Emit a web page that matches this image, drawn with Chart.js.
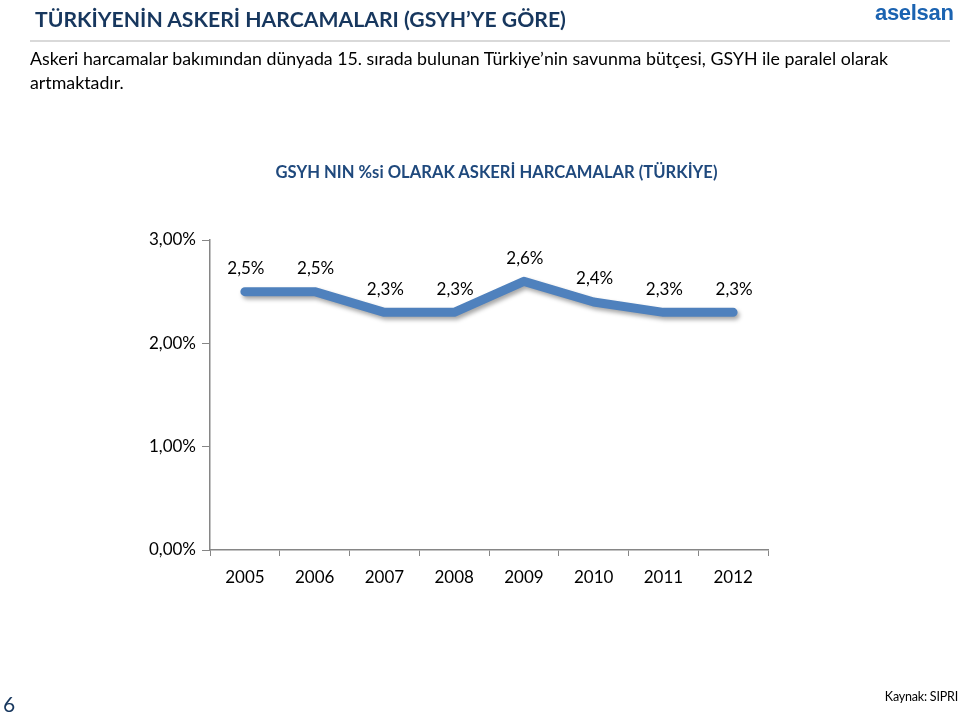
<!DOCTYPE html>
<html><head><meta charset="utf-8">
<script src="https://cdn.jsdelivr.net/npm/chart.js@4/dist/chart.umd.min.js"></script>
<style>
html,body{margin:0;padding:0;background:#fff;}
body{width:960px;height:719px;position:relative;overflow:hidden;font-family:Lato,"Open Sans",sans-serif;}
#title{position:absolute;left:35px;top:6px;font-size:21.2px;font-weight:bold;color:#17375E;white-space:nowrap;}
#rule{position:absolute;left:30px;top:40px;width:920px;height:2px;background:#d9d9d9;}
#sub{position:absolute;left:30px;top:46px;width:880px;font-size:17.8px;line-height:24px;color:#000;}
#logo{position:absolute;left:875px;top:0px;font-family:"Liberation Sans",Arial,sans-serif;font-size:22px;font-weight:bold;color:#1B63B1;letter-spacing:-0.3px;}
#ctitle{position:absolute;left:0;width:993px;text-align:center;top:162px;font-size:16.6px;font-weight:bold;color:#1F497D;white-space:nowrap;}
#num{position:absolute;left:3px;top:691px;font-size:21px;color:#17375E;}
#src{position:absolute;right:2px;top:689px;font-size:12.5px;color:#000;white-space:nowrap;letter-spacing:-0.2px;}
canvas{position:absolute;left:0;top:0;}
</style></head>
<body>
<canvas id="c" width="960" height="719"></canvas>
<div id="title">TÜRKİYENİN ASKERİ HARCAMALARI (GSYH’YE GÖRE)</div>
<div id="rule"></div>
<div id="logo">aselsan</div>
<div id="sub">Askeri harcamalar bakımından dünyada 15. sırada bulunan Türkiye’nin savunma bütçesi, GSYH ile paralel olarak artmaktadır.</div>
<div id="ctitle">GSYH NIN %si OLARAK ASKERİ HARCAMALAR (TÜRKİYE)</div>
<div id="num">6</div>
<div id="src">Kaynak: SIPRI</div>
<script>
const years = ["2005","2006","2007","2008","2009","2010","2011","2012"];
const gdpShare = [2.5, 2.5, 2.3, 2.3, 2.6, 2.4, 2.3, 2.3];
const yTicks = [0, 1, 2, 3];

const fmt = v => v.toFixed(1).replace('.', ',') + '%';
const fmtTick = v => v.toFixed(2).replace('.', ',') + '%';

const shadowPlugin = {
  id: 'shadow',
  beforeDatasetDraw(chart) {
    const ctx = chart.ctx;
    ctx.save();
    ctx.shadowColor = 'rgba(0,0,0,0.35)';
    ctx.shadowBlur = 4;
    ctx.shadowOffsetX = 2;
    ctx.shadowOffsetY = 3;
  },
  afterDatasetDraw(chart) { chart.ctx.restore(); }
};
const labelPlugin = {
  id: 'labels',
  afterDatasetsDraw(chart) {
    const ctx = chart.ctx;
    const meta = chart.getDatasetMeta(0);
    ctx.save();
    ctx.font = '17px Lato, "Open Sans", sans-serif';
    ctx.fillStyle = '#000';
    ctx.textAlign = 'center';
    ctx.textBaseline = 'middle';
    meta.data.forEach((pt, i) => {
      ctx.fillText(fmt(gdpShare[i]), pt.x + 1, pt.y - 23);
    });
    ctx.restore();
  }
};

new Chart(document.getElementById('c'), {
  type: 'line',
  data: {
    labels: years,
    datasets: [{
      data: gdpShare,
      borderColor: '#4F81BD',
      borderWidth: 9,
      borderCapStyle: 'round',
      borderJoinStyle: 'round',
      pointRadius: 0,
      tension: 0,
      fill: false
    }]
  },
  options: {
    responsive: false,
    animation: false,
    events: [],
    layout: { padding: { left: 140, top: 240, right: 192, bottom: 0 } },
    plugins: { legend: { display: false }, tooltip: { enabled: false }, title: { display: false } },
    scales: {
      x: {
        offset: true,
        grid: { offset: true, drawOnChartArea: false, color: '#868686', tickLength: 6, tickColor: '#868686' },
        border: { color: '#868686', width: 1.5 },
        ticks: { color: '#000', font: { size: 17, family: 'Lato' }, padding: 11, maxRotation: 0 },
        afterFit: s => { s.height = 169; }
      },
      y: {
        min: 0, max: 3,
        afterBuildTicks: s => { s.ticks = yTicks.map(v => ({ value: v })); },
        grid: { drawOnChartArea: false, color: '#868686', tickLength: 8, tickColor: '#868686' },
        border: { color: '#868686', width: 1.5 },
        ticks: { color: '#000', font: { size: 17, family: 'Lato' }, padding: 6, callback: v => fmtTick(v) },
        afterFit: s => { s.width = 70; }
      }
    }
  },
  plugins: [shadowPlugin, labelPlugin]
});
</script>
</body></html>
